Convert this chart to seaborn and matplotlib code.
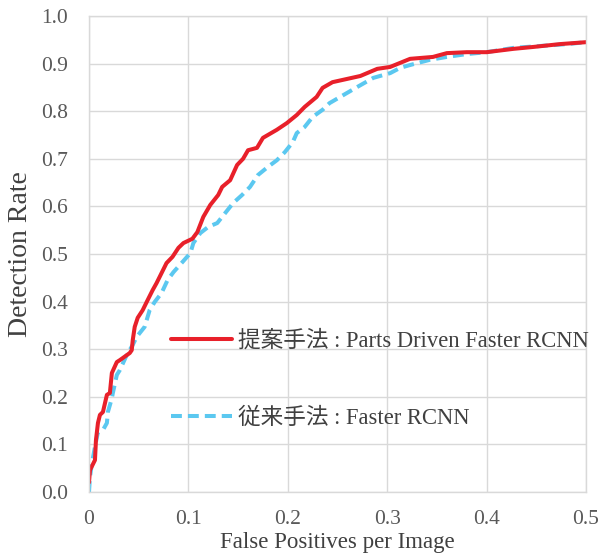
import numpy as np
import pandas as pd
import matplotlib
matplotlib.use("Agg")
import matplotlib.pyplot as plt
import seaborn as sns

# Datos
red_x = [0.000, 0.001, 0.006, 0.007, 0.009, 0.011, 0.014, 0.018, 0.021, 0.023,
         0.028, 0.031, 0.041, 0.043, 0.044, 0.046, 0.049, 0.054, 0.058, 0.064,
         0.068, 0.073, 0.078, 0.084, 0.090, 0.095, 0.104, 0.109, 0.115, 0.122,
         0.130, 0.134, 0.142, 0.149, 0.155, 0.160, 0.169, 0.175, 0.189, 0.199,
         0.209, 0.217, 0.229, 0.235, 0.245, 0.273, 0.290, 0.303, 0.323, 0.346,
         0.360, 0.380, 0.400, 0.427, 0.447, 0.474, 0.500]
red_y = [0.020, 0.046, 0.067, 0.109, 0.145, 0.162, 0.168, 0.204, 0.208, 0.250,
         0.273, 0.277, 0.292, 0.298, 0.319, 0.347, 0.366, 0.382, 0.399, 0.424,
         0.439, 0.460, 0.481, 0.494, 0.513, 0.523, 0.532, 0.546, 0.578, 0.603,
         0.624, 0.641, 0.655, 0.687, 0.700, 0.718, 0.723, 0.744, 0.761, 0.775,
         0.792, 0.809, 0.830, 0.849, 0.861, 0.874, 0.889, 0.893, 0.910, 0.914,
         0.922, 0.924, 0.924, 0.931, 0.935, 0.941, 0.945]

blue_x = [0.000, 0.001, 0.003, 0.006, 0.009, 0.014, 0.018, 0.019, 0.023, 0.024,
          0.028, 0.031, 0.038, 0.044, 0.048, 0.056, 0.061, 0.066, 0.073, 0.079,
          0.085, 0.094, 0.102, 0.105, 0.112, 0.120, 0.129, 0.137, 0.145, 0.154,
          0.162, 0.170, 0.180, 0.189, 0.197, 0.205, 0.209, 0.217, 0.225, 0.235,
          0.242, 0.256, 0.270, 0.286, 0.303, 0.313, 0.323, 0.343, 0.360, 0.380,
          0.400, 0.427, 0.454, 0.481, 0.500]
blue_y = [0.000, 0.032, 0.061, 0.095, 0.126, 0.130, 0.145, 0.168, 0.197, 0.208,
          0.246, 0.256, 0.288, 0.309, 0.326, 0.347, 0.382, 0.399, 0.418, 0.445,
          0.462, 0.483, 0.502, 0.523, 0.544, 0.557, 0.565, 0.586, 0.607, 0.624,
          0.641, 0.666, 0.683, 0.697, 0.714, 0.735, 0.754, 0.767, 0.788, 0.803,
          0.817, 0.834, 0.851, 0.870, 0.880, 0.891, 0.897, 0.908, 0.914, 0.920,
          0.924, 0.933, 0.937, 0.941, 0.945]

label_red = "提案手法 : Parts Driven Faster RCNN"
label_blue = "従来手法 : Faster RCNN"
x_ticks = [0, 0.1, 0.2, 0.3, 0.4, 0.5]
x_tick_labels = ["0", "0.1", "0.2", "0.3", "0.4", "0.5"]
y_ticks = [0.0, 0.1, 0.2, 0.3, 0.4, 0.5, 0.6, 0.7, 0.8, 0.9, 1.0]
y_tick_labels = ["%.1f" % v for v in y_ticks]

# Estilo
sns.set_style("white")
plt.rcParams["font.family"] = ["Liberation Serif", "Noto Sans CJK JP"]

fig = plt.figure(figsize=(6.03, 5.59), dpi=100)
ax = fig.add_axes([89 / 603, 1 - 492 / 559, 497 / 603, 476 / 559])

sns.lineplot(x=blue_x, y=blue_y, ax=ax, sort=False, estimator=None,
             color="#5BC8F0", lw=2.9, ls=(0, (2.7, 1.5)), label=label_blue)
sns.lineplot(x=red_x, y=red_y, ax=ax, sort=False, estimator=None,
             color="#E8202A", lw=2.9, label=label_red)

ax.set_xlim(0, 0.5)
ax.set_ylim(0, 1.0)
ax.set_xticks(x_ticks)
ax.set_xticklabels(x_tick_labels)
ax.set_yticks(y_ticks)
ax.set_yticklabels(y_tick_labels)
ax.grid(True, color="#d9d9d9", lw=1)
ax.set_axisbelow(True)
for s in ax.spines.values():
    s.set_color("#d9d9d9")
    s.set_linewidth(1)
ax.tick_params(axis="both", length=0, labelsize=15.5, colors="#595959")
ax.tick_params(axis="x", pad=13)
ax.tick_params(axis="y", pad=15)

ax.set_xlabel("False Positives per Image", fontsize=16.5, color="#404040", labelpad=2)
ax.set_ylabel("Detection Rate", fontsize=20, color="#404040", labelpad=6)

h, l = ax.get_legend_handles_labels()
leg = ax.legend(h[::-1], l[::-1], loc="center left", bbox_to_anchor=(0.165, 0.236),
                frameon=False, fontsize=16.3, handlelength=2.7, handletextpad=0.25,
                labelspacing=2.5, borderpad=0, borderaxespad=0)
for t in leg.get_texts():
    t.set_color("#404040")

plt.savefig("out.png", dpi=100)
